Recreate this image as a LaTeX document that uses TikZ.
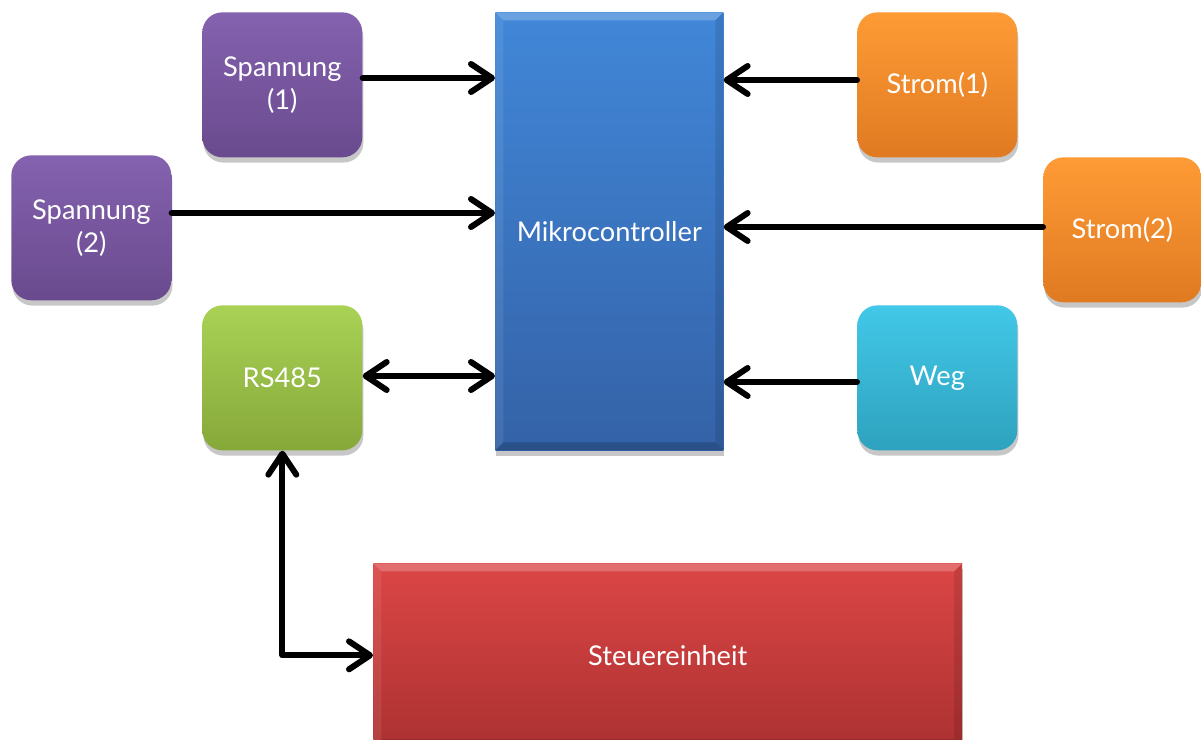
\documentclass[tikz,border=0pt]{standalone}
\usepackage{fontspec}
\setsansfont{Lato}
\usetikzlibrary{arrows.meta,shadows}

\definecolor{violetTop}{HTML}{8462AF}
\definecolor{violetBot}{HTML}{6A4A8E}
\definecolor{blueTop}{HTML}{4187D8}
\definecolor{blueBot}{HTML}{3462A7}
\definecolor{orangeTop}{HTML}{FE9B35}
\definecolor{orangeBot}{HTML}{E07A22}
\definecolor{greenTop}{HTML}{A9D255}
\definecolor{greenBot}{HTML}{86A83A}
\definecolor{cyanTop}{HTML}{42C8E8}
\definecolor{cyanBot}{HTML}{2EA2BE}
\definecolor{redTop}{HTML}{DC4646}
\definecolor{redBot}{HTML}{AC3131}

\tikzset{
  x=0.02cm, y=-0.02cm,
  basebox/.style={
    rectangle, draw=none, inner sep=0pt, anchor=north west,
    text=white, align=center,
    font=\sffamily\fontsize{15.5}{19}\selectfont,
    shading=axis,
    drop shadow={shadow xshift=0.6pt, shadow yshift=-3pt, opacity=0.22, fill=black}
  },
  tile/.style={basebox, rounded corners=0.4cm,
    minimum width=3.2cm, minimum height=2.9cm},
  slab/.style={basebox,
    path picture={
      \fill[white,opacity=0.22]
        (path picture bounding box.north west) --
        (path picture bounding box.north east) --
        ([xshift=-0.16cm,yshift=-0.16cm]path picture bounding box.north east) --
        ([xshift=0.16cm,yshift=-0.16cm]path picture bounding box.north west) -- cycle;
      \fill[black,opacity=0.18]
        (path picture bounding box.south west) --
        (path picture bounding box.south east) --
        ([xshift=-0.16cm,yshift=0.16cm]path picture bounding box.south east) --
        ([xshift=0.16cm,yshift=0.16cm]path picture bounding box.south west) -- cycle;
      \fill[white,opacity=0.08]
        (path picture bounding box.north west) --
        ([xshift=0.16cm,yshift=-0.16cm]path picture bounding box.north west) --
        ([xshift=0.16cm,yshift=0.16cm]path picture bounding box.south west) --
        (path picture bounding box.south west) -- cycle;
      \fill[black,opacity=0.10]
        (path picture bounding box.north east) --
        ([xshift=-0.16cm,yshift=-0.16cm]path picture bounding box.north east) --
        ([xshift=-0.16cm,yshift=0.16cm]path picture bounding box.south east) --
        (path picture bounding box.south east) -- cycle;
    }},
  violetbox/.style={tile, top color=violetTop, bottom color=violetBot},
  orangebox/.style={tile, top color=orangeTop, bottom color=orangeBot},
  greenbox/.style={tile, top color=greenTop, bottom color=greenBot},
  cyanbox/.style={tile, top color=cyanTop, bottom color=cyanBot},
  barb/.tip={Straight Barb[round, length=0.42cm, width=0.56cm]},
  conn/.style={line width=0.12cm, line cap=round, line join=round, -barb},
  biconn/.style={conn, barb-barb}
}

\begin{document}
\begin{tikzpicture}
  \clip (0,0) rectangle (1201,740);
  \fill[white] (0,0) rectangle (1201,740);

  % microcontroller and control unit
  \node[slab, top color=blueTop, bottom color=blueBot,
        minimum width=4.56cm, minimum height=8.76cm] (mc) at (495,12) {Mikrocontroller};
  \node[slab, top color=redTop, bottom color=redBot,
        minimum width=11.78cm, minimum height=3.68cm] (st) at (373,563) {Steuereinheit};

  % input and interface tiles
  \node[violetbox] (sp1) at (202,12)  {Spannung\\(1)};
  \node[violetbox] (sp2) at (11,155)  {Spannung\\(2)};
  \node[greenbox]  (rs)  at (202,305) {RS485};
  \node[orangebox] (st1) at (857,12)  {Strom(1)};
  \node[orangebox, minimum width=3.16cm] (st2) at (1043,157) {Strom(2)};
  \node[cyanbox]   (weg) at (857,305) {Weg};

  % signal lines
  \draw[conn] (sp1.east |- 0,78)  -- (mc.west |- 0,78);
  \draw[conn] (sp2.east |- 0,213) -- (mc.west |- 0,213);
  \draw[biconn] (rs.east |- 0,376) -- (mc.west |- 0,376);
  \draw[conn] (st1.west |- 0,80)  -- (mc.east |- 0,80);
  \draw[conn] (st2.west |- 0,227) -- (mc.east |- 0,227);
  \draw[conn] (weg.west |- 0,382) -- (mc.east |- 0,382);
  \draw[biconn] (rs.south) |- (st.west);
\end{tikzpicture}
\end{document}
